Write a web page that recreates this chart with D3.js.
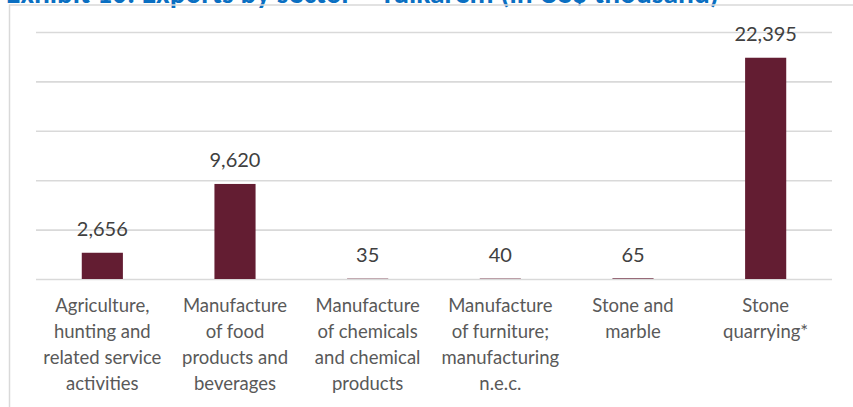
<!DOCTYPE html>
<html>
<head>
<meta charset="utf-8">
<script src="https://cdn.jsdelivr.net/npm/d3@7"></script>
<style>
  html, body { margin: 0; padding: 0; background: #ffffff; }
  svg { display: block; }
</style>
</head>
<body>
<div id="chart"></div>
<script>
// Exports by sector, Tulkarem (US$ thousand)
const categories = [
  "Agriculture, hunting and related service activities",
  "Manufacture of food products and beverages",
  "Manufacture of chemicals and chemical products",
  "Manufacture of furniture; manufacturing n.e.c.",
  "Stone and marble",
  "Stone quarrying*"
];
const tickLabelLines = [
  ["Agriculture,", "hunting and", "related service", "activities"],
  ["Manufacture", "of food", "products and", "beverages"],
  ["Manufacture", "of chemicals", "and chemical", "products"],
  ["Manufacture", "of furniture;", "manufacturing", "n.e.c."],
  ["Stone and", "marble"],
  ["Stone", "quarrying*"]
];
const exportsValues = [2656, 9620, 35, 40, 65, 22395];
const yTicks = [0, 5000, 10000, 15000, 20000, 25000];
const titleText = "Exhibit 10: Exports by sector \u2013 Tulkarem (in US$ thousand)";

const W = 853, H = 407;
const plot = { left: 36, right: 832, top: 32, bottom: 279 };

const svg = d3.select("#chart").append("svg")
  .attr("width", W).attr("height", H);

// Title (sits above the frame)
svg.append("text")
  .attr("x", 6).attr("y", 3)
  .attr("font-family", "Calibri, 'Liberation Sans', Arial, sans-serif")
  .attr("font-size", 29.5)
  .attr("font-weight", "bold")
  .attr("fill", "#0a6fc2")
  .text(titleText);

// Frame
svg.append("path")
  .attr("d", `M9.5,${H} V5 H${W}`)
  .attr("fill", "none")
  .attr("stroke", "#d9d9d9")
  .attr("stroke-width", 1.5);

const x = d3.scaleBand()
  .domain(categories)
  .range([plot.left, plot.right])
  .paddingInner(0.69)
  .paddingOuter(0.345);

const y = d3.scaleLinear()
  .domain([0, 25000])
  .range([plot.bottom, plot.top]);

// Horizontal gridlines
const yAxis = d3.axisLeft(y)
  .tickValues(yTicks)
  .tickSize(-(plot.right - plot.left))
  .tickFormat("");
const gGrid = svg.append("g")
  .attr("transform", `translate(${plot.left},0)`)
  .call(yAxis);
gGrid.select(".domain").remove();
gGrid.selectAll(".tick line")
  .attr("stroke", "#d9d9d9")
  .attr("stroke-width", 1.6);

// Bars
svg.append("g").selectAll("rect")
  .data(exportsValues)
  .join("rect")
  .attr("x", (d, i) => x(categories[i]))
  .attr("width", x.bandwidth())
  .attr("y", d => y(d))
  .attr("height", d => y(0) - y(d))
  .attr("fill", "#631d32");

// Value labels
const fmt = d3.format(",");
svg.append("g").selectAll("text")
  .data(exportsValues)
  .join("text")
  .attr("x", (d, i) => x(categories[i]) + x.bandwidth() / 2)
  .attr("y", d => y(d) - 16.5)
  .attr("text-anchor", "middle")
  .attr("font-family", "Lato, 'Open Sans', sans-serif")
  .attr("font-size", 20)
  .attr("fill", "#404040")
  .text(d => fmt(d));

// Category labels
const xAxis = d3.axisBottom(x).tickSize(0).tickFormat("");
const gX = svg.append("g")
  .attr("transform", `translate(0,${plot.bottom})`)
  .call(xAxis);
gX.select(".domain").remove();
gX.selectAll(".tick").each(function(d, i) {
  const t = d3.select(this).append("text")
    .attr("text-anchor", "middle")
    .attr("font-family", "Lato, 'Open Sans', sans-serif")
    .attr("font-size", 18.5)
    .attr("fill", "#595959");
  tickLabelLines[i].forEach((line, j) => {
    t.append("tspan")
      .attr("x", 0)
      .attr("y", 33 + j * 26)
      .text(line);
  });
});
</script>
</body>
</html>
